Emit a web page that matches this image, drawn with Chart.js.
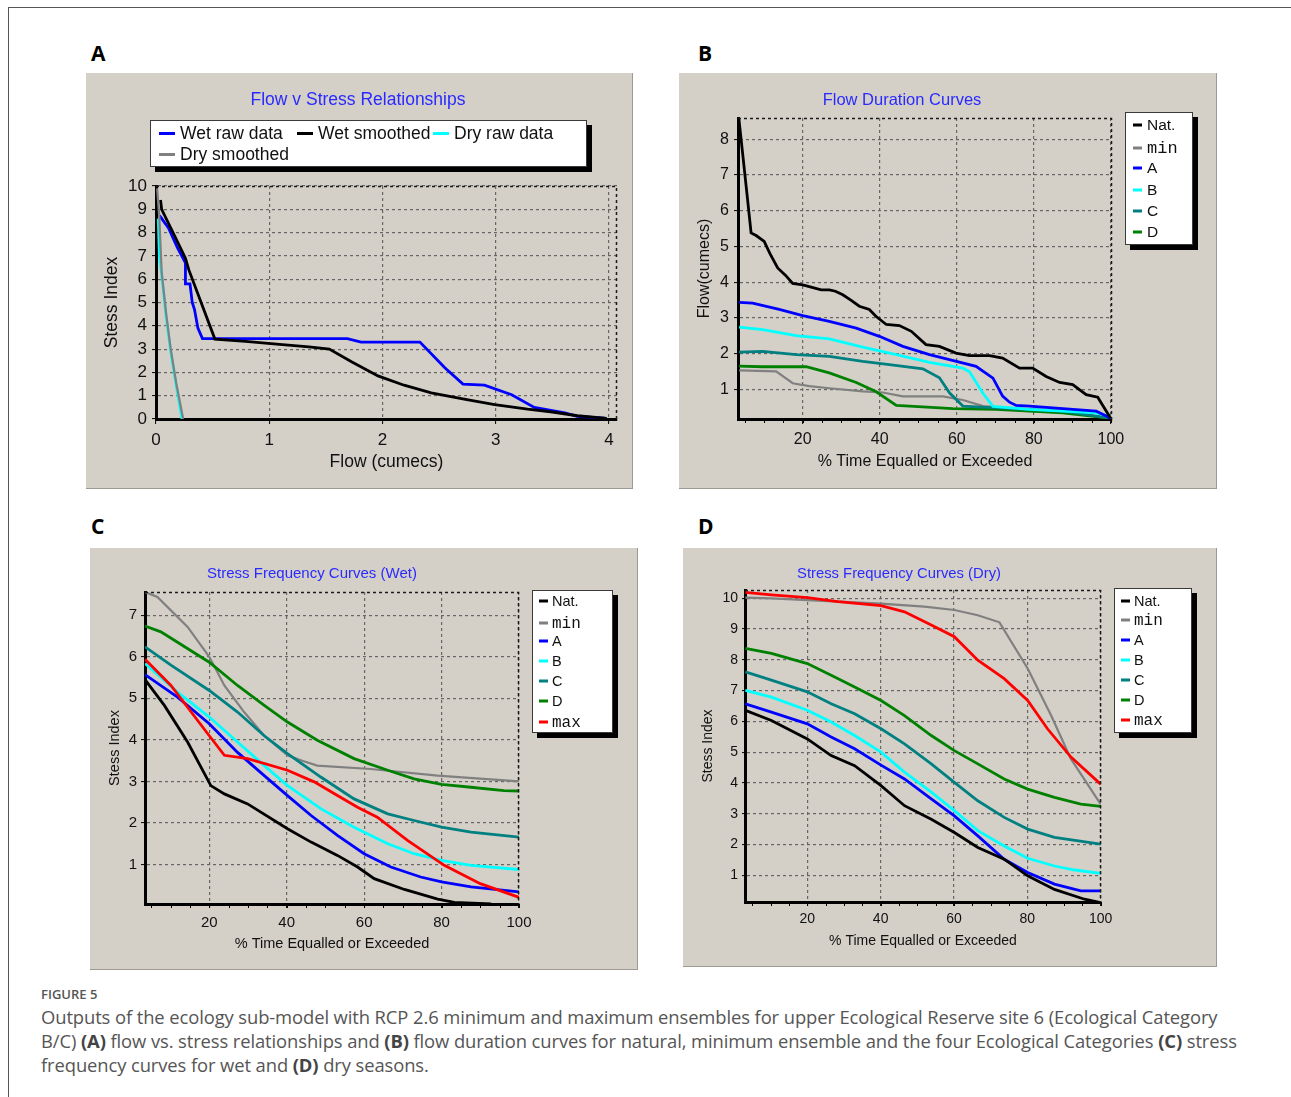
<!DOCTYPE html>
<html>
<head>
<meta charset="utf-8">
<script src="https://cdn.jsdelivr.net/npm/chart.js@4.4.1/dist/chart.umd.min.js"></script>
<style>
  body { margin: 0; background: #fff; width: 1291px; height: 1097px; overflow: hidden; position: relative; }
  .frame { position: absolute; left: 8px; top: 7px; width: 1300px; height: 1100px; border-top: 1px solid #555; border-left: 1px solid #555; }
  .lab { position: absolute; font: bold 21px/21px "Open Sans", sans-serif; color: #000; }
  .panel { position: absolute; background: #d4d0c8; border-right: 1px solid #9d9a93; border-bottom: 1px solid #9d9a93; }
  .panel canvas { position: absolute; left: 0; top: 0; }
  .cap-h { position: absolute; left: 41px; top: 988px; font: 600 13px/13px "Open Sans", sans-serif; color: #555; }
  .cap { position: absolute; left: 41px; top: 1005px; font: 18.4px/24px "Open Sans", sans-serif; letter-spacing: -0.1px; color: #555; white-space: nowrap; }
  .cap b { font-weight: 700; color: #444; }
</style>
</head>
<body>
<div class="frame"></div>
<div class="lab" style="left:91px;top:43px">A</div>
<div class="lab" style="left:698px;top:43px">B</div>
<div class="lab" style="left:91px;top:516px">C</div>
<div class="lab" style="left:698px;top:516px">D</div>

<div class="panel" style="left:86px;top:73px;width:546px;height:415px"><canvas id="chartA" width="546" height="415"></canvas></div>
<div class="panel" style="left:679px;top:73px;width:537px;height:415px"><canvas id="chartB" width="537" height="415"></canvas></div>
<div class="panel" style="left:90px;top:548px;width:547px;height:421px"><canvas id="chartC" width="547" height="421"></canvas></div>
<div class="panel" style="left:683px;top:548px;width:533px;height:418px"><canvas id="chartD" width="533" height="418"></canvas></div>

<div class="cap-h">FIGURE 5</div>
<div class="cap">Outputs of the ecology sub-model with RCP 2.6 minimum and maximum ensembles for upper Ecological Reserve site 6 (Ecological Category<br>B/C) <b>(A)</b> flow vs. stress relationships and <b>(B)</b> flow duration curves for natural, minimum ensemble and the four Ecological Categories <b>(C)</b> stress<br>frequency curves for wet and <b>(D)</b> dry seasons.</div>

<script>
// A: flow (cumecs) vs stress index
const wetRaw = [[0.03,8.74],[0.11,8.2],[0.19,7.34],[0.26,6.7],[0.26,5.8],[0.30,5.8],[0.32,5.0],[0.34,4.7],[0.37,3.9],[0.41,3.45],[1.69,3.45],[1.81,3.3],[2.33,3.3],[2.55,2.2],[2.71,1.5],[2.90,1.45],[3.14,1.04],[3.34,0.5],[3.61,0.26],[3.72,0.11],[3.96,0.04]];
const wetSmooth = [[0.04,9.4],[0.05,9.0],[0.16,7.9],[0.26,6.9],[0.29,6.4],[0.52,3.43],[0.79,3.33],[1.09,3.2],[1.35,3.1],[1.53,3.0],[1.73,2.45],[1.96,1.85],[2.19,1.45],[2.43,1.12],[2.72,0.85],[2.99,0.62],[3.28,0.42],[3.5,0.3],[3.72,0.14],[3.98,0.03]];
const dryRaw = [[0.02,8.6],[0.03,7.0],[0.05,6.2],[0.09,4.4],[0.13,2.9],[0.18,1.4],[0.23,0]];
const drySmooth = [[0.01,9.9],[0.03,8.6],[0.05,6.3],[0.09,4.5],[0.13,3.0],[0.18,1.5],[0.24,0]];

// B: flow duration curves, % time vs flow
const fdcNat = [[3.4,8.6],[4.0,8.0],[4.4,7.6],[5.5,6.5],[6.6,5.38],[8.0,5.3],[10.0,5.14],[11.5,4.8],[13.5,4.4],[15.5,4.2],[17.4,3.97],[20,3.93],[21.7,3.88],[24.8,3.79],[26.9,3.79],[28.5,3.75],[30.4,3.65],[32.5,3.5],[34.7,3.33],[37.3,3.24],[39,3.05],[41.7,2.82],[45.1,2.79],[48.2,2.63],[52.0,2.26],[55.5,2.21],[59.8,2.02],[63.3,1.95],[68.5,1.95],[71.9,1.88],[76.3,1.6],[79.7,1.6],[83.2,1.37],[86.7,1.2],[90.1,1.14],[93.6,0.86],[96.6,0.79],[99.9,0.21]];
const fdcMin = [[3.5,1.54],[13.1,1.51],[17.4,1.18],[21.7,1.1],[26.9,1.04],[35.6,0.95],[40.8,0.92],[46,0.81],[56.4,0.81],[61.6,0.71],[66.8,0.54],[87.5,0.38],[100,0.2]];
const fdcA = [[3.5,3.44],[7.0,3.42],[13.9,3.24],[20,3.07],[26.9,2.91],[33.9,2.72],[39.9,2.49],[46,2.21],[52.9,1.98],[59.9,1.79],[65,1.65],[69.4,1.32],[71.9,0.82],[73.7,0.65],[75.4,0.56],[78.9,0.54],[96.2,0.4],[100,0.2]];
const fdcB = [[3.5,2.75],[9.6,2.68],[18.3,2.51],[26.9,2.42],[35.6,2.19],[44.3,1.98],[52.9,1.76],[61.6,1.6],[63.3,1.5],[66.8,0.9],[69.4,0.53],[78.9,0.45],[96.2,0.35],[100,0.25]];
const fdcC = [[3.5,2.05],[9.6,2.07],[18.3,1.98],[26.9,1.93],[35.6,1.79],[42.5,1.7],[51.2,1.58],[55.5,1.33],[58.1,0.91],[61.6,0.54],[70.2,0.49],[87.5,0.4],[100,0.2]];
const fdcD = [[3.5,1.66],[9.6,1.64],[20.9,1.64],[26.9,1.47],[33.9,1.2],[39.1,0.94],[44.3,0.56],[47.7,0.54],[59,0.47],[70.2,0.45],[87.5,0.35],[100,0.2]];

// C: stress frequency, wet season
const wetNat = [[3.4,5.45],[8.4,4.83],[14.4,3.95],[20.4,2.9],[23.9,2.7],[29.9,2.46],[40.2,1.86],[46.3,1.54],[53.1,1.22],[58.3,0.94],[62.6,0.66],[70.4,0.4],[79,0.17],[83.3,0.09],[92.8,0.05]];
const wetMin = [[3.4,7.56],[6.6,7.44],[14.4,6.72],[20,6.0],[23.9,5.31],[29,4.67],[34.2,4.1],[40.2,3.63],[44,3.5],[47.9,3.38],[61.7,3.3],[79,3.14],[100,3.0]];
const wetA = [[3.4,5.57],[11.8,5.03],[20,4.39],[27.3,3.7],[34.2,3.14],[40.2,2.66],[46.3,2.18],[53.1,1.7],[60,1.26],[66.9,0.94],[74.6,0.7],[80,0.58],[87.6,0.46],[100,0.34]];
const wetB = [[3.4,5.84],[11.8,5.15],[20,4.55],[27.3,3.95],[34.2,3.38],[40.2,2.9],[48.9,2.34],[57.4,1.9],[66.1,1.5],[72.9,1.26],[80,1.1],[87.6,0.98],[100,0.88]];
const wetC = [[3.4,6.24],[10.1,5.8],[20,5.19],[27.3,4.67],[34.2,4.1],[40.2,3.67],[48.9,3.1],[57.4,2.58],[66.1,2.22],[72.9,2.06],[80,1.9],[87.6,1.78],[100,1.66]];
const wetD = [[3.4,6.74],[7.5,6.6],[20,5.87],[27.3,5.31],[34.2,4.83],[40.2,4.43],[47.9,3.99],[57.4,3.55],[66.1,3.27],[72.9,3.06],[80,2.93],[87.6,2.86],[96.1,2.78],[100,2.77]];
const wetMax = [[3.4,5.94],[10.1,5.31],[20,4.1],[23.9,3.63],[29.9,3.55],[40.2,3.27],[47.1,2.99],[53.1,2.66],[58.3,2.38],[63.4,2.14],[71.2,1.58],[80.7,0.98],[90,0.54],[100,0.21]];

// D: stress frequency, dry season
const dryNat = [[3.1,6.36],[10.2,6.03],[20,5.43],[26.5,4.89],[32.9,4.56],[40.1,3.91],[46.5,3.26],[53.8,2.82],[60.1,2.39],[66.5,1.9],[73.7,1.52],[80.1,0.98],[87.4,0.54],[95.6,0.22],[100,0.11]];
const dryMin = [[3.1,10.02],[10.2,10.0],[20,9.94],[40.1,9.83],[51.9,9.73],[60.1,9.62],[66.5,9.45],[72.4,9.22],[80.1,7.72],[86.5,6.19],[91.9,4.78],[100,3.31]];
const dryA = [[3.1,6.57],[10.2,6.3],[20,5.92],[26.5,5.49],[32.9,5.11],[40.1,4.58],[46.5,4.13],[53.8,3.48],[60.1,2.93],[66.5,2.28],[73.7,1.52],[80.1,1.09],[87.4,0.71],[94.6,0.49],[100,0.49]];
const dryB = [[3.1,7.01],[10.2,6.79],[20,6.36],[26.5,5.98],[32.9,5.54],[40.1,5.0],[46.5,4.35],[53.8,3.7],[60.1,3.1],[66.5,2.45],[73.7,1.95],[80.1,1.55],[87.4,1.3],[93,1.17],[100,1.06]];
const dryC = [[3.1,7.61],[10.2,7.34],[20,6.96],[26.5,6.57],[32.9,6.25],[40.1,5.76],[46.5,5.27],[53.8,4.62],[60.1,4.02],[66.5,3.42],[73.7,2.88],[80.1,2.5],[87.4,2.23],[100,2.01]];
const dryD = [[3.1,8.37],[10.2,8.21],[20,7.88],[26.5,7.5],[32.9,7.12],[40.1,6.68],[46.5,6.19],[53.8,5.54],[60.1,5.05],[66.5,4.62],[73.7,4.13],[80.1,3.8],[87.4,3.53],[94.6,3.31],[100,3.24]];
const dryMax = [[3.1,10.19],[10.2,10.11],[20,10.02],[28.3,9.89],[40.1,9.76],[46.5,9.56],[53.8,9.13],[60.1,8.75],[66.5,7.99],[73.7,7.39],[80.1,6.68],[85.5,5.76],[91.9,4.84],[100,3.96]];

const FONT = '"Liberation Sans", Arial, sans-serif';
const MONO = '"Liberation Mono", "Courier New", monospace';
const GRID = '#666666';
const COL = { nat: '#000000', min: '#808080', a: '#0000ff', b: '#00ffff', c: '#008080', d: '#008000', max: '#ff0000' };

// title, legend box and dashed frame drawn on top of the chart
const decor = {
  id: 'decor',
  afterDraw(chart, args, o) {
    const { ctx, chartArea: a } = chart;
    ctx.save();
    ctx.strokeStyle = '#1a1a1a';
    ctx.lineWidth = 1.5;
    ctx.setLineDash([3, 3]);
    ctx.beginPath();
    ctx.moveTo(a.left, a.top + 0.5);
    ctx.lineTo(a.right - 0.5, a.top + 0.5);
    ctx.lineTo(a.right - 0.5, a.bottom);
    ctx.stroke();
    ctx.setLineDash([]);

    if (o.minor) {
      const xs = chart.scales.x;
      ctx.strokeStyle = '#000';
      ctx.lineWidth = 1;
      for (let v = Math.ceil(xs.min / o.minor) * o.minor; v <= xs.max; v += o.minor) {
        const px = Math.round(xs.getPixelForValue(v)) + 0.5;
        ctx.beginPath();
        ctx.moveTo(px, a.bottom);
        ctx.lineTo(px, a.bottom + 4);
        ctx.stroke();
      }
    }

    ctx.fillStyle = '#2a2aff';
    ctx.font = o.titleSize + 'px ' + FONT;
    ctx.textAlign = 'center';
    ctx.textBaseline = 'middle';
    ctx.fillText(o.title, o.titleX, o.titleY);

    const [x0, y0, x1, y1] = o.box;
    ctx.fillStyle = '#000';
    ctx.fillRect(x0 + 5, y0 + 5, x1 - x0, y1 - y0);
    ctx.fillStyle = '#fff';
    ctx.fillRect(x0, y0, x1 - x0, y1 - y0);
    ctx.strokeStyle = '#3a3a3a';
    ctx.lineWidth = 1;
    ctx.strokeRect(x0 + 0.5, y0 + 0.5, x1 - x0 - 1, y1 - y0 - 1);

    ctx.textAlign = 'left';
    chart.data.datasets.forEach((ds, i) => {
      const [mx, my] = o.rows[i];
      ctx.fillStyle = ds.borderColor;
      ctx.fillRect(mx, my - 1.5, o.mw, 3);
      ctx.fillStyle = '#111';
      const mono = ds.label === 'min' || ds.label === 'max';
      ctx.font = mono ? (o.legSize + 1.5) + 'px ' + MONO : o.legSize + 'px ' + FONT;
      ctx.fillText(ds.label, mx + o.mw + o.gap, my + 0.5);
    });
    ctx.restore();
  }
};

function axis(c, fontSize, titleSize, tl, pad, tp, isX, fixed) {
  return {
    type: 'linear',
    min: c.min,
    max: c.max,
    afterFit: s => { if (isX) s.height = fixed; else s.width = fixed; },
    ticks: { stepSize: c.step, includeBounds: false, autoSkip: false, maxRotation: 0, padding: pad, color: '#111', font: { family: FONT, size: fontSize } },
    grid: { color: GRID, lineWidth: 1.2, tickLength: tl, tickColor: '#000', tickWidth: 1 },
    border: { display: true, color: '#000', width: 3, dash: [3, 3] },
    title: {
      display: true, text: c.title, color: '#111', font: { family: FONT, size: titleSize },
      padding: isX ? { top: 0, bottom: tp } : { top: tp, bottom: 0 }
    }
  };
}

function makeChart(id, p) {
  return new Chart(document.getElementById(id), {
    type: 'line',
    data: {
      datasets: p.series.map(s => ({
        label: s.label,
        data: s.data.map(([x, y]) => ({ x, y })),
        borderColor: s.color,
        borderWidth: s.color === COL.min ? 2.2 : 2.8,
        pointRadius: 0,
        tension: 0,
        fill: false,
        order: s.order
      }))
    },
    options: {
      responsive: false,
      animation: false,
      devicePixelRatio: 1,
      layout: { padding: { left: 0, top: p.top, right: p.right, bottom: 0 } },
      plugins: { legend: { display: false }, tooltip: { enabled: false }, decor: p.decor },
      scales: {
        x: axis(p.x, p.tick, p.lab, p.x.tl, p.x.pad, p.tp, true, p.xh),
        y: axis(p.y, p.tick, p.lab, p.y.tl, p.y.pad, p.tp, false, p.yw)
      }
    },
    plugins: [decor]
  });
}

makeChart('chartA', {
  top: 113, right: 15, xh: 69, yw: 70, tick: 17, lab: 17.5, tp: 15.5,
  x: { min: 0, max: 4.07, step: 1, title: 'Flow (cumecs)', tl: 5, pad: 6 },
  y: { min: 0, max: 10, step: 1, title: 'Stess Index', tl: 4, pad: 5 },
  series: [
    { label: 'Wet raw data', data: wetRaw, color: COL.a, order: 2 },
    { label: 'Wet smoothed', data: wetSmooth, color: COL.nat, order: 1 },
    { label: 'Dry raw data', data: dryRaw, color: COL.b, order: 3 },
    { label: 'Dry smoothed', data: drySmooth, color: COL.min, order: 0 }
  ],
  decor: {
    title: 'Flow v Stress Relationships', titleX: 272, titleY: 27, titleSize: 17.5,
    box: [64, 47, 501, 94], legSize: 17.5, mw: 16, gap: 5,
    rows: [[73, 60.5], [211, 60.5], [347, 60.5], [73, 81.5]]
  }
});

makeChart('chartB', {
  top: 45, right: 104, xh: 69, yw: 59, tick: 16, lab: 16, tp: 16.4,
  x: { min: 3.2, max: 100.3, step: 20, title: '% Time Equalled or Exceeded', tl: 5, pad: 6 },
  y: { min: 0.18, max: 8.59, step: 1, title: 'Flow(cumecs)', tl: 4, pad: 5 },
  series: [
    { label: 'Nat.', data: fdcNat, color: COL.nat, order: 0 },
    { label: 'min', data: fdcMin, color: COL.min, order: 6 },
    { label: 'A', data: fdcA, color: COL.a, order: 1 },
    { label: 'B', data: fdcB, color: COL.b, order: 2 },
    { label: 'C', data: fdcC, color: COL.c, order: 3 },
    { label: 'D', data: fdcD, color: COL.d, order: 4 }
  ],
  decor: {
    title: 'Flow Duration Curves', titleX: 223, titleY: 27, titleSize: 16.5, minor: 5,
    box: [446, 39, 514, 172], legSize: 15.5, mw: 9, gap: 5,
    rows: [[454, 52], [454, 75], [454, 95], [454, 117], [454, 138], [454, 159]]
  }
});

makeChart('chartC', {
  top: 44, right: 118, xh: 65, yw: 55, tick: 15, lab: 14.5, tp: 16.3,
  x: { min: 3.4, max: 100, step: 20, title: '% Time Equalled or Exceeded', tl: 4, pad: 6 },
  y: { min: 0.05, max: 7.56, step: 1, title: 'Stess Index', tl: 4, pad: 4 },
  series: [
    { label: 'Nat.', data: wetNat, color: COL.nat, order: 1 },
    { label: 'min', data: wetMin, color: COL.min, order: 6 },
    { label: 'A', data: wetA, color: COL.a, order: 2 },
    { label: 'B', data: wetB, color: COL.b, order: 3 },
    { label: 'C', data: wetC, color: COL.c, order: 4 },
    { label: 'D', data: wetD, color: COL.d, order: 5 },
    { label: 'max', data: wetMax, color: COL.max, order: 0 }
  ],
  decor: {
    title: 'Stress Frequency Curves (Wet)', titleX: 222, titleY: 26, titleSize: 15, minor: 5,
    box: [442, 42, 523, 185], legSize: 14.5, mw: 9, gap: 4,
    rows: [[449, 53], [449, 75], [449, 93], [449, 113], [449, 133], [449, 153], [449, 174]]
  }
});

makeChart('chartD', {
  top: 42, right: 115, xh: 64, yw: 62, tick: 14, lab: 14, tp: 16.6,
  x: { min: 3.0, max: 100.1, step: 20, title: '% Time Equalled or Exceeded', tl: 4, pad: 5 },
  y: { min: 0.13, max: 10.27, step: 1, title: 'Stess Index', tl: 3, pad: 4 },
  series: [
    { label: 'Nat.', data: dryNat, color: COL.nat, order: 1 },
    { label: 'min', data: dryMin, color: COL.min, order: 6 },
    { label: 'A', data: dryA, color: COL.a, order: 2 },
    { label: 'B', data: dryB, color: COL.b, order: 3 },
    { label: 'C', data: dryC, color: COL.c, order: 4 },
    { label: 'D', data: dryD, color: COL.d, order: 5 },
    { label: 'max', data: dryMax, color: COL.max, order: 0 }
  ],
  decor: {
    title: 'Stress Frequency Curves (Dry)', titleX: 216, titleY: 26, titleSize: 14.8, minor: 5,
    box: [431, 40, 509, 185], legSize: 14.5, mw: 9, gap: 4,
    rows: [[438, 53], [438, 72], [438, 92], [438, 112], [438, 132], [438, 152], [438, 172]]
  }
});
</script>
</body>
</html>
